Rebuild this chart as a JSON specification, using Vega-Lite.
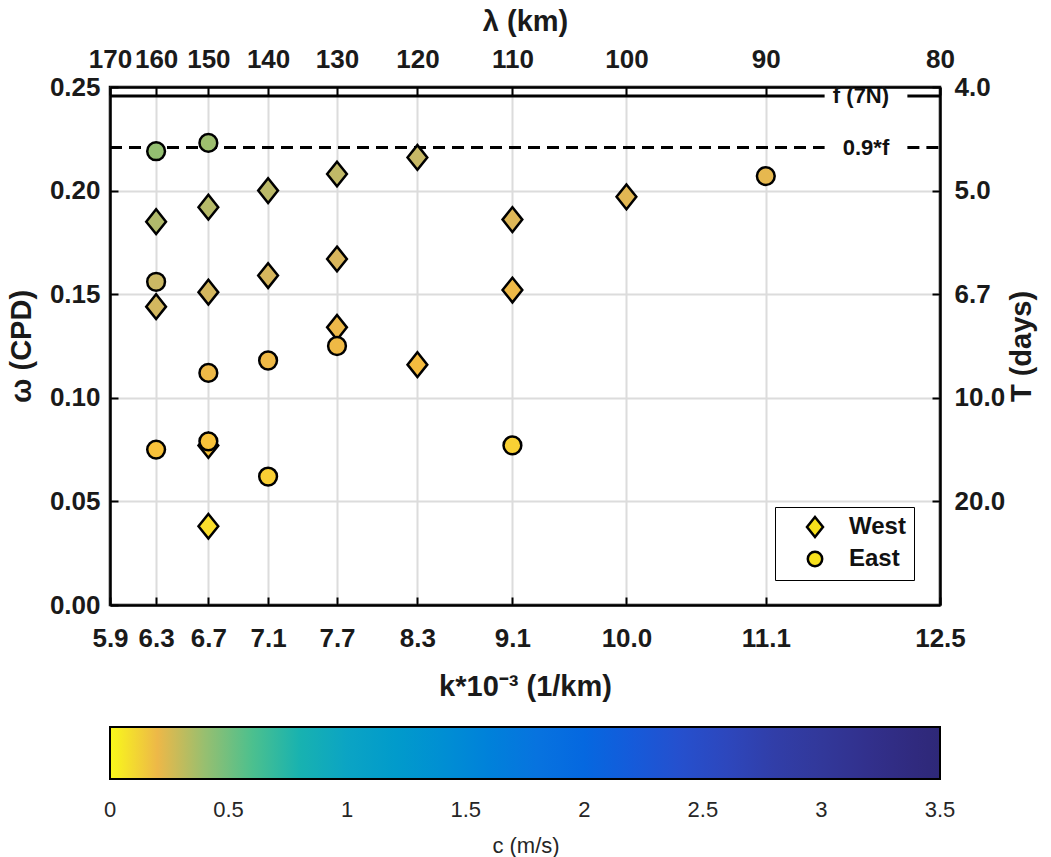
{
  "$schema": "https://vega.github.io/schema/vega-lite/v6.json",
  "width": 830,
  "height": 518,
  "autosize": {"type": "none"},
  "padding": {"left": 110, "top": 87, "right": 111, "bottom": 252},
  "background": "white",
  "datasets": {
    "lines": [
      {"x1": 5.882353, "x2": 11.58, "w": 0.2456, "style": "solid"},
      {"x1": 12.24, "x2": 12.5, "w": 0.2456, "style": "solid"},
      {"x1": 5.882353, "x2": 11.58, "w": 0.2208, "style": "dashed"},
      {"x1": 12.24, "x2": 12.5, "w": 0.2208, "style": "dashed"}
    ],
    "labels": [
      {"kx": 11.87, "w": 0.2456, "label": "f (7N)"},
      {"kx": 11.91, "w": 0.2208, "label": "0.9*f"}
    ],
    "pts": [
      {"dir": "West", "k": 6.25, "w": 0.185, "c": 0.343},
      {"dir": "West", "k": 6.25, "w": 0.144, "c": 0.267},
      {"dir": "West", "k": 6.666667, "w": 0.192, "c": 0.333},
      {"dir": "West", "k": 6.666667, "w": 0.151, "c": 0.262},
      {"dir": "West", "k": 6.666667, "w": 0.077, "c": 0.134},
      {"dir": "West", "k": 6.666667, "w": 0.038, "c": 0.066},
      {"dir": "West", "k": 7.142857, "w": 0.200, "c": 0.324},
      {"dir": "West", "k": 7.142857, "w": 0.159, "c": 0.258},
      {"dir": "West", "k": 7.692308, "w": 0.208, "c": 0.313},
      {"dir": "West", "k": 7.692308, "w": 0.167, "c": 0.251},
      {"dir": "West", "k": 7.692308, "w": 0.134, "c": 0.202},
      {"dir": "West", "k": 8.333333, "w": 0.216, "c": 0.300},
      {"dir": "West", "k": 8.333333, "w": 0.116, "c": 0.161},
      {"dir": "West", "k": 9.090909, "w": 0.186, "c": 0.237},
      {"dir": "West", "k": 9.090909, "w": 0.152, "c": 0.194},
      {"dir": "West", "k": 10.0, "w": 0.197, "c": 0.228},
      {"dir": "East", "k": 6.25, "w": 0.219, "c": 0.406},
      {"dir": "East", "k": 6.25, "w": 0.156, "c": 0.289},
      {"dir": "East", "k": 6.25, "w": 0.075, "c": 0.139},
      {"dir": "East", "k": 6.666667, "w": 0.223, "c": 0.387},
      {"dir": "East", "k": 6.666667, "w": 0.112, "c": 0.194},
      {"dir": "East", "k": 6.666667, "w": 0.079, "c": 0.137},
      {"dir": "East", "k": 7.142857, "w": 0.118, "c": 0.191},
      {"dir": "East", "k": 7.142857, "w": 0.062, "c": 0.100},
      {"dir": "East", "k": 7.692308, "w": 0.125, "c": 0.188},
      {"dir": "East", "k": 9.090909, "w": 0.077, "c": 0.098},
      {"dir": "East", "k": 11.111111, "w": 0.207, "c": 0.216}
    ]
  },
  "layer": [
    {
      "data": {"name": "lines"},
      "mark": {"type": "rule", "strokeWidth": 3, "color": "black"},
      "encoding": {
        "x": {
          "field": "x1", "type": "quantitative",
          "scale": {"domain": [5.882353, 12.5], "nice": false, "zero": false},
          "axis": {
            "orient": "bottom", "title": "k*10⁻³ (1/km)",
            "values": [5.882353, 6.25, 6.666667, 7.142857, 7.692308, 8.333333, 9.090909, 10, 11.111111, 12.5],
            "format": ".1f", "labelPadding": 28, "titlePadding": 21, "grid": true
          }
        },
        "x2": {"field": "x2"},
        "y": {
          "field": "w", "type": "quantitative",
          "scale": {"domain": [0, 0.25], "nice": false, "zero": false},
          "axis": {
            "orient": "left", "title": "ω (CPD)",
            "values": [0, 0.05, 0.1, 0.15, 0.2, 0.25],
            "format": ".2f", "labelPadding": 18, "titlePadding": 13, "grid": true
          }
        },
        "strokeDash": {
          "field": "style", "type": "nominal",
          "scale": {"domain": ["solid", "dashed"], "range": [[1, 0], [12, 7]]},
          "legend": null
        }
      }
    },
    {
      "data": {"name": "pts"},
      "mark": {"type": "point", "filled": true, "stroke": "black", "strokeWidth": 2.5, "opacity": 1, "size": 390},
      "encoding": {
        "x": {
          "field": "k", "type": "quantitative",
          "scale": {"domain": [5.882353, 12.5], "nice": false, "zero": false},
          "axis": {
            "orient": "top", "title": "λ (km)",
            "values": [5.882353, 6.25, 6.666667, 7.142857, 7.692308, 8.333333, 9.090909, 10, 11.111111, 12.5],
            "labelExpr": "format(1000/datum.value, '.0f')",
            "labelPadding": 23, "titlePadding": 10, "grid": false
          }
        },
        "y": {
          "field": "w", "type": "quantitative",
          "scale": {"domain": [0, 0.25], "nice": false, "zero": false},
          "axis": {
            "orient": "right", "title": "T (days)",
            "values": [0.05, 0.1, 0.15, 0.2, 0.25],
            "labelExpr": "format(1/datum.value, '.1f')",
            "labelPadding": 22, "titlePadding": 3, "titleAngle": 270, "titleBaseline": "top", "grid": false
          }
        },
        "shape": {
          "field": "dir", "type": "nominal",
          "scale": {
            "domain": ["West", "East"],
            "range": ["M0,-1.25L1,0L0,1.25L-1,0Z", "M0.9,0A0.9,0.9,0,1,1,-0.9,0A0.9,0.9,0,1,1,0.9,0Z"]
          },
          "legend": {
            "title": null, "orient": "none", "legendX": 665, "legendY": 420,
            "strokeColor": "black", "fillColor": "white", "padding": 8,
            "labelFontSize": 24, "labelFontWeight": "bold", "labelColor": "#111111",
            "symbolSize": 256, "symbolStrokeWidth": 2.5, "rowPadding": 4,
            "symbolFillColor": "#F7E01C", "symbolStrokeColor": "black",
            "symbolOffset": 20, "labelOffset": 22
          }
        },
        "color": {
          "field": "c", "type": "quantitative",
          "scale": {
            "domain": [0, 0.05, 0.1, 0.15, 0.2, 0.25, 0.3, 0.35, 0.4, 0.45, 0.5, 0.6, 0.7, 0.8, 0.9, 1.0, 1.25, 1.5, 1.75, 2.0, 2.25, 2.5, 2.75, 3.0, 3.25, 3.5],
            "range": ["#F9F91A", "#F9E528", "#F9CF34", "#F7BD3C", "#EDB848", "#D9B65C", "#C7B866", "#AEBA6C", "#97BF70", "#80C078", "#6CC282", "#4CC08E", "#2BB8A2", "#18B2B0", "#10ACB8", "#0BA4C4", "#0898CC", "#0F88D6", "#0B76DE", "#0568E0", "#1958D8", "#2A4BC8", "#3040AC", "#32389A", "#322E88", "#2E2878"]
          },
          "legend": {
            "orient": "none", "legendX": 0, "legendY": 640, "direction": "horizontal",
            "gradientLength": 830, "gradientThickness": 52,
            "gradientStrokeColor": "black", "gradientStrokeWidth": 2,
            "title": "c (m/s)", "titleOrient": "bottom", "titleAnchor": "middle",
            "titleFontSize": 22, "titleFontWeight": "normal", "titleColor": "#262626", "titlePadding": 15,
            "values": [0, 0.5, 1, 1.5, 2, 2.5, 3, 3.5], "format": "~g",
            "labelFontSize": 22, "labelFontWeight": "normal", "labelColor": "#262626",
            "labelAlign": "center", "labelOffset": 21, "labelOverlap": false, "padding": 0,
            "encoding": {"labels": {"align": {"value": "center"}}}
          }
        }
      }
    },
    {
      "data": {"name": "labels"},
      "mark": {"type": "text", "fontSize": 22, "fontWeight": "bold", "font": "Liberation Sans", "color": "#111111", "align": "center", "baseline": "middle"},
      "encoding": {
        "x": {"field": "kx", "type": "quantitative", "scale": {"domain": [5.882353, 12.5], "nice": false, "zero": false}, "axis": null},
        "y": {"field": "w", "type": "quantitative", "scale": {"domain": [0, 0.25], "nice": false, "zero": false}, "axis": null},
        "text": {"field": "label"}
      }
    }
  ],
  "resolve": {"axis": {"x": "independent", "y": "independent"}},
  "config": {
    "font": "Liberation Sans",
    "view": {"stroke": "black", "strokeWidth": 2.5},
    "axis": {
      "labelFont": "Liberation Sans", "labelFontSize": 26, "labelFontWeight": "bold", "labelColor": "#1a1a1a",
      "titleFont": "Liberation Sans", "titleFontSize": 29, "titleFontWeight": "bold", "titleColor": "#1a1a1a",
      "domainColor": "black", "domainWidth": 2.5, "tickColor": "black", "tickWidth": 2, "tickSize": -8,
      "gridColor": "#DCDCDC", "gridWidth": 2, "labelOverlap": false, "labelFlush": false, "labelBound": false
    },
    "legend": {"labelFont": "Liberation Sans", "titleFont": "Liberation Sans"}
  }
}
